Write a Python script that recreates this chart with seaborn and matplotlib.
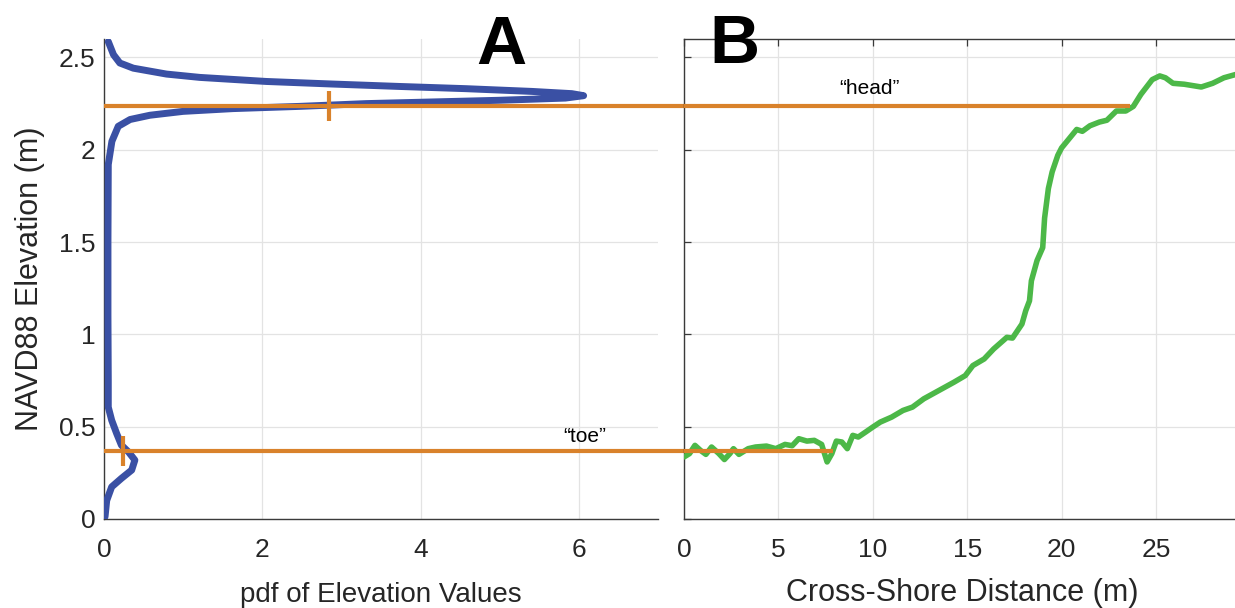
import numpy as np
import pandas as pd
import matplotlib
matplotlib.use("Agg")
import matplotlib.pyplot as plt
import seaborn as sns

# ---- data ----
pdf_elev = [0.012, 0.10, 0.174, 0.22, 0.265, 0.319, 0.363, 0.40, 0.463, 0.535, 0.606,
            0.75, 1.10, 1.50, 1.92, 2.046, 2.127, 2.164, 2.187, 2.208, 2.223, 2.235,
            2.25, 2.259, 2.268, 2.28, 2.293, 2.304, 2.316, 2.331, 2.343, 2.356, 2.37,
            2.392, 2.41, 2.442, 2.47, 2.515, 2.586]
pdf_vals = [0.013, 0.034, 0.097, 0.22, 0.35, 0.39, 0.31, 0.22, 0.16, 0.097, 0.054,
            0.054, 0.05, 0.05, 0.054, 0.10, 0.18, 0.33, 0.58, 1.0, 1.63, 2.47,
            3.31, 4.15, 4.99, 5.83, 6.06, 5.91, 5.41, 4.57, 3.73, 2.89, 2.05,
            1.21, 0.79, 0.37, 0.20, 0.12, 0.054]

dist = [0.0, 0.29, 0.58, 0.87, 1.16, 1.46, 1.85, 2.14, 2.43, 2.62, 2.91, 3.40, 3.79, 4.37,
        4.86, 5.35, 5.73, 6.08, 6.51, 6.90, 7.29, 7.58, 7.83, 8.07, 8.36, 8.65, 8.94,
        9.23, 9.62, 10.0, 10.4, 11.0, 11.6, 12.1, 12.7, 13.5, 14.3, 14.9, 15.3, 15.9,
        16.4, 17.1, 17.4, 17.9, 18.1, 18.3, 18.4, 18.7, 19.0, 19.1, 19.3, 19.5, 19.8,
        20.0, 20.4, 20.8, 21.1, 21.5, 22.0, 22.4, 22.9, 23.4, 23.8, 24.2, 24.8, 25.2,
        25.5, 25.9, 26.5, 27.4, 28.0, 28.6, 29.3]
elev = [0.336, 0.354, 0.399, 0.372, 0.35, 0.39, 0.354, 0.322, 0.354, 0.381, 0.35, 0.381,
        0.39, 0.395, 0.381, 0.404, 0.397, 0.435, 0.422, 0.426, 0.404, 0.309, 0.354,
        0.422, 0.417, 0.381, 0.453, 0.444, 0.471, 0.498, 0.525, 0.552, 0.588, 0.606,
        0.651, 0.696, 0.741, 0.777, 0.831, 0.867, 0.921, 0.984, 0.98, 1.056, 1.128,
        1.182, 1.29, 1.40, 1.47, 1.63, 1.79, 1.88, 1.97, 2.01, 2.06, 2.11, 2.10, 2.13,
        2.15, 2.16, 2.21, 2.21, 2.235, 2.30, 2.38, 2.40, 2.39, 2.36, 2.355, 2.34, 2.36,
        2.39, 2.41]

head_elev = 2.235
toe_elev = 0.37
head_dist = 23.6
toe_dist = 7.9
head_pdf = 2.84
toe_pdf = 0.235

pdf_xticks = [0, 2, 4, 6]
elev_ticks = [0, 0.5, 1, 1.5, 2, 2.5]
dist_ticks = [0, 5, 10, 15, 20, 25]

BLUE = "#3a50a4"
GREEN = "#4cb848"
ORANGE = "#d9822b"
GRID = "#e3e3e3"
SPINE = "#3a3a3a"
TXT = "#262626"

sns.set_style("white")
plt.rcParams["font.family"] = ["Liberation Sans", "DejaVu Sans"]

fig = plt.figure(figsize=(12.35, 6.08), dpi=100)
axA = fig.add_axes([104/1235, 89/608, 554/1235, 480/608])
axB = fig.add_axes([684/1235, 89/608, 556/1235, 480/608])

df_pdf = pd.DataFrame({"pdf": pdf_vals, "elev": pdf_elev})
df_prof = pd.DataFrame({"dist": dist, "elev": elev})

sns.lineplot(data=df_pdf, x="pdf", y="elev", sort=False, estimator=None,
             color=BLUE, lw=5.0, ax=axA, solid_capstyle="round",
             solid_joinstyle="round", zorder=3)
sns.lineplot(data=df_prof, x="dist", y="elev", sort=False, estimator=None,
             color=GREEN, lw=4.0, ax=axB, solid_joinstyle="round", zorder=3)

# horizontal markers
gap = 7 + (684 - 658) / 79.2
for e in (head_elev, toe_elev):
    axA.plot([0, gap], [e, e], color=ORANGE, lw=3.0, clip_on=False, zorder=4,
             solid_capstyle="butt")
axB.plot([0, head_dist], [head_elev, head_elev], color=ORANGE, lw=3.0, zorder=4,
         solid_capstyle="butt")
axB.plot([0, toe_dist], [toe_elev, toe_elev], color=ORANGE, lw=3.0, zorder=4,
         solid_capstyle="butt")
axA.plot([head_pdf, toe_pdf], [head_elev, toe_elev], ls="none", marker="|",
         ms=22, mew=3, color=ORANGE, zorder=5)

axB.text(9.8, 2.33, "\u201chead\u201d", ha="center", va="center", fontsize=15, color="black")
axA.text(6.07, 0.448, "\u201ctoe\u201d", ha="center", va="center", fontsize=15, color="black")

fig.text(501/1235, 1 - 64/608, "A", ha="center", va="baseline", fontsize=50,
         fontweight="bold", color="black")
fig.text(734/1235, 1 - 63/608, "B", ha="center", va="baseline", fontsize=50,
         fontweight="bold", color="black")

for ax in (axA, axB):
    ax.set_ylim(0, 2.6)
    ax.set_yticks(elev_ticks)
    ax.grid(True, color=GRID, lw=0.9)
    ax.set_axisbelow(True)
    ax.tick_params(direction="in", length=5, width=0.9, colors=SPINE,
                   labelcolor=TXT, labelsize=19)
    for s in ax.spines.values():
        s.set_color(SPINE)
        s.set_linewidth(1.0)

axA.set_xlim(0, 7)
axA.set_xticks(pdf_xticks)
axA.set_yticklabels(["0", "0.5", "1", "1.5", "2", "2.5"])
axA.spines["top"].set_visible(False)
axA.spines["right"].set_visible(False)
axA.tick_params(axis="x", pad=14)
axA.tick_params(axis="y", pad=6)
axA.set_xlabel("pdf of Elevation Values", fontsize=20, color=TXT, labelpad=14)
axA.set_ylabel("NAVD88 Elevation (m)", fontsize=22, color=TXT, labelpad=10)

axB.set_xlim(0, 29.45)
axB.set_xticks(dist_ticks)
axB.set_yticklabels([])
axB.spines["right"].set_visible(False)
axB.tick_params(top=True, left=True)
axB.tick_params(axis="x", pad=14)
axB.set_xlabel("Cross-Shore Distance (m)", fontsize=22, color=TXT, labelpad=11)
axB.set_ylabel("")

fig.savefig("out.png", dpi=100)
